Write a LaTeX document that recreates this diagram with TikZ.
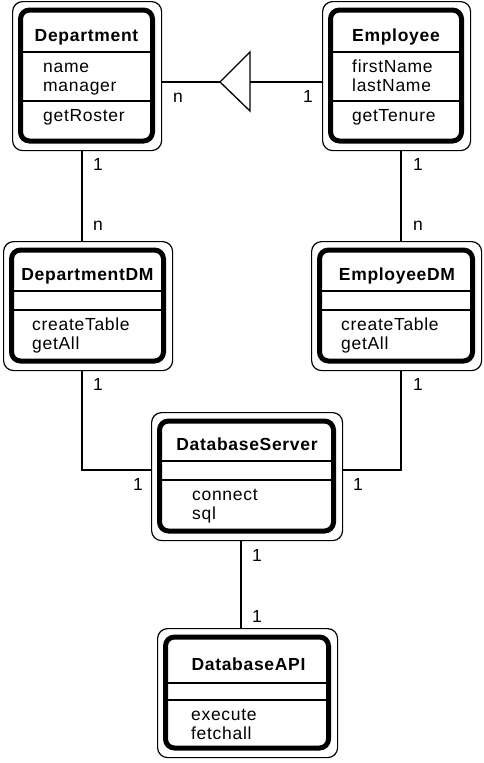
\documentclass[tikz,border=0pt]{standalone}
\usepackage{fontspec}
\setmainfont{Liberation Sans}[LetterSpace=4]
\newcommand\classbox[5]{%
  \node[outerbox, minimum width={#4-#2}, minimum height={#5-#3}] (#1) at (#2,#3) {};
  \draw[innerbox] ({#2+8.5},{#3+9}) rectangle ({#4-8.5},{#5-9});
}
\newcommand\sepline[3]{\draw[sepl] ({#1+8.5},#3) -- ({#2-8.5},#3);}
\begin{document}
\begin{tikzpicture}[x=1pt,y=-1pt,
  outerbox/.style={draw, line width=1.2pt, rounded corners=10pt, inner sep=0pt, anchor=north west},
  innerbox/.style={draw, line width=5pt, rounded corners=9pt},
  sepl/.style={line width=1.3pt},
  conn/.style={line width=1.3pt},
  title/.style={font=\fontsize{17.5}{20}\selectfont\bfseries, anchor=base, inner sep=0pt},
  member/.style={font=\fontsize{17.5}{20}\selectfont, anchor=base west, inner sep=0pt},
  mult/.style={font=\fontsize{17.5}{20}\selectfont, anchor=base west, inner sep=0pt}]
\useasboundingbox (0,0) rectangle (483,763);

% Department
\classbox{dep}{12}{1}{161}{150}
\sepline{12}{161}{52}\sepline{12}{161}{101}
\node[title] (depT) at (86.5,41.7) {Department};
\node[member] (depA1) at (43,72) {name};
\node[member] (depA2) at (43,91) {manager};
\node[member] (depM1) at (43,121.7) {getRoster};

% Employee
\classbox{emp}{322}{1}{470}{150}
\sepline{322}{470}{52}\sepline{322}{470}{101}
\node[title] (empT) at (396,41.7) {Employee};
\node[member] (empA1) at (352,72) {firstName};
\node[member] (empA2) at (352,91) {lastName};
\node[member] (empM1) at (352,121.7) {getTenure};

% DepartmentDM
\classbox{depdm}{3}{241}{172}{370}
\sepline{3}{172}{291}\sepline{3}{172}{310}
\node[title] (depdmT) at (87.5,280) {DepartmentDM};
\node[member] (depdmM1) at (32,330) {createTable};
\node[member] (depdmM2) at (32,349) {getAll};

% EmployeeDM
\classbox{empdm}{311}{241}{481}{370}
\sepline{311}{481}{291}\sepline{311}{481}{310}
\node[title] (empdmT) at (397,280) {EmployeeDM};
\node[member] (empdmM1) at (341,330) {createTable};
\node[member] (empdmM2) at (341,349) {getAll};

% DatabaseServer
\classbox{dbs}{151}{412}{342}{540}
\sepline{151}{342}{461}\sepline{151}{342}{480}
\node[title] (dbsT) at (247,450) {DatabaseServer};
\node[member] (dbsM1) at (192,500) {connect};
\node[member] (dbsM2) at (192,519) {sql};

% DatabaseAPI
\classbox{dba}{157}{628}{337}{757}
\sepline{157}{337}{683}\sepline{157}{337}{700}
\node[title] (dbaT) at (248.5,670) {DatabaseAPI};
\node[member] (dbaM1) at (191,720) {execute};
\node[member] (dbaM2) at (191,739) {fetchall};

% generalization triangle
\coordinate (gtip) at (220,82);
\coordinate (gbase) at (250,82);
\coordinate (gtop) at (250,52);
\coordinate (gbot) at (250,111);
\draw[conn, line join=miter] (gtop) -- (gtip) -- (gbot) -- cycle;
\draw[conn] (dep.east |- gtip) -- (gtip);
\draw[conn] (gbase) -- (emp.west |- gbase);

% vertical connectors
\coordinate (depx) at (82,0);
\coordinate (empx) at (401,0);
\coordinate (dbx) at (241,0);
\coordinate (midy) at (0,470);
\draw[conn] (dep.south -| depx) -- (depdm.north -| depx);
\draw[conn] (emp.south -| empx) -- (empdm.north -| empx);
\draw[conn] (depdm.south -| depx) |- (dbs.west |- midy);
\draw[conn] (empdm.south -| empx) |- (dbs.east |- midy);
\draw[conn] (dbs.south -| dbx) -- (dba.north -| dbx);

% multiplicities
\node[mult] (m1) at (173,102) {n};
\node[mult] (m2) at (303,102) {1};
\node[mult] (m3) at (93,170) {1};
\node[mult] (m4) at (93,230) {n};
\node[mult] (m5) at (413,170) {1};
\node[mult] (m6) at (413,230) {n};
\node[mult] (m7) at (93,390) {1};
\node[mult] (m8) at (133,490) {1};
\node[mult] (m9) at (413,390) {1};
\node[mult] (m10) at (353,490) {1};
\node[mult] (m11) at (252,561) {1};
\node[mult] (m12) at (252,622) {1};
\end{tikzpicture}
\end{document}
